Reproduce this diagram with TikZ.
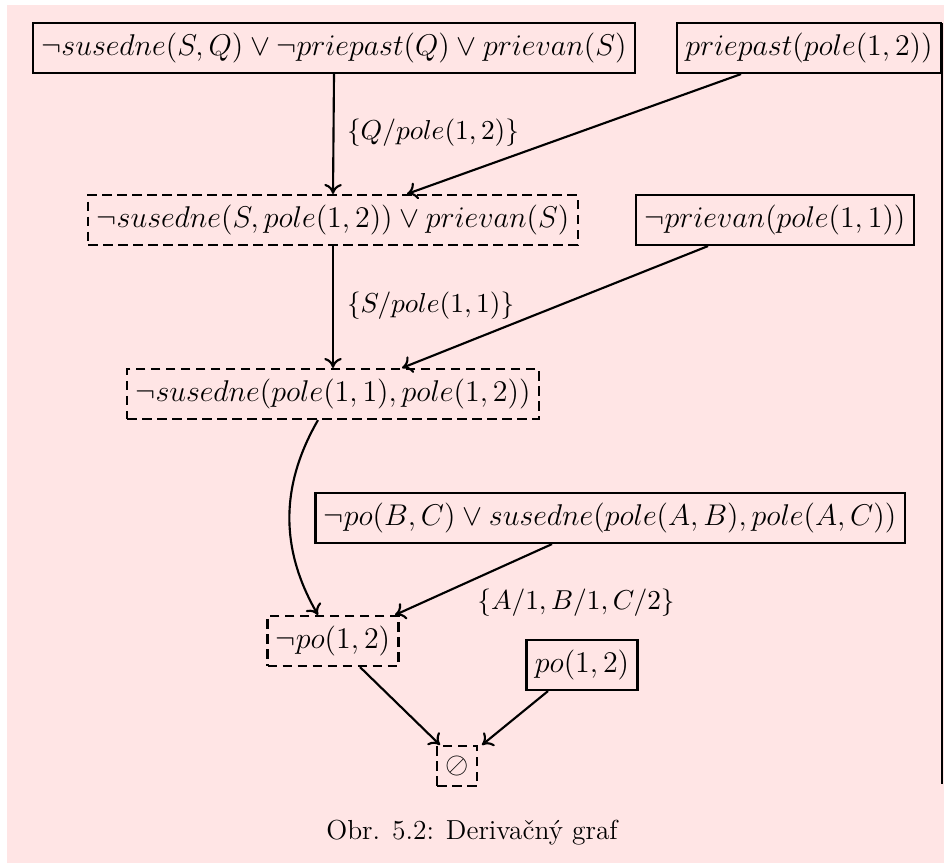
\documentclass[tikz,border=0pt]{standalone}
\usetikzlibrary{arrows.meta}
\begin{document}
\begin{tikzpicture}[x=0.4pt,y=-0.4pt,
  every node/.style={font=\fontsize{11.7}{14}\selectfont},
  clause/.style={draw,line width=0.85pt,inner xsep=0.3333em,inner ysep=4pt},
  derived/.style={draw,line width=0.85pt,dash pattern=on 3.8pt off 2.2pt,inner xsep=0.3333em,inner ysep=4pt},
  arr/.style={-{To[length=4pt,width=7pt]},line width=0.85pt},
  lbl/.style={inner sep=1pt,font=\fontsize{10.5}{12.6}\selectfont}]
\useasboundingbox (0,0) rectangle (944,863);
\fill[red!10] (7,5) rectangle (944,863);
\draw[line width=0.85pt] (942,23) -- (942,784);
\node[clause] (A) at (334,48) {$\neg susedne(S,Q)\vee\neg priepast(Q)\vee prievan(S)$};
\node[clause] (B) at (809,48) {$priepast(pole(1,2))$};
\node[derived] (C) at (333,220) {$\neg susedne(S,pole(1,2))\vee prievan(S)$};
\node[clause] (D) at (775,220) {$\neg prievan(pole(1,1))$};
\node[derived] (E) at (333,394) {$\neg susedne(pole(1,1),pole(1,2))$};
\node[clause] (F) at (610,518) {$\neg po(B,C)\vee susedne(pole(A,B),pole(A,C))$};
\node[derived] (G) at (333,641) {$\neg po(1,2)$};
\node[clause] (H) at (582,665) {$po(1,2)$};
\node[derived] (I) at (457,766) {$\oslash$};
\node[font=\fontsize{11}{13}\selectfont] (cap) at (472,833) {Obr. 5.2: Derivačný graf};
\draw[arr] (A.south) -- (C.north);
\node[lbl,anchor=west] (l1) at (344,133) {$\{Q/pole(1,2)\}$};
\draw[arr] ([xshift=-68*0.4pt]B.south) -- ([xshift=74*0.4pt]C.north);
\draw[arr] (C.south) -- (E.north);
\node[lbl,anchor=west] (l2) at (344,306) {$\{S/pole(1,1)\}$};
\draw[arr] ([xshift=-67*0.4pt]D.south) -- ([xshift=69*0.4pt]E.north);
\draw[arr] ([xshift=-15*0.4pt]E.south) to[bend right=30] ([xshift=-15*0.4pt]G.north);
\draw[arr] ([xshift=-58*0.4pt]F.south) -- ([xshift=62*0.4pt]G.north);
\node[lbl] (l3) at (576,603) {$\{A/1,B/1,C/2\}$};
\draw[arr] ([xshift=27*0.4pt]G.south) -- ([xshift=-17*0.4pt]I.north);
\draw[arr] ([xshift=-34*0.4pt]H.south) -- ([xshift=25*0.4pt]I.north);
\end{tikzpicture}
\end{document}
